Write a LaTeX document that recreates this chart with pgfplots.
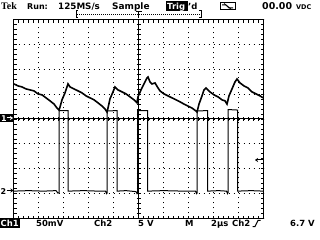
\documentclass[border=0pt]{standalone}
\usepackage{fontspec}
\setmainfont{DejaVu Sans}
\newfontfamily\tekfont{Liberation Serif}
\usepackage{pgfplots}
\pgfplotsset{compat=1.18}
\usetikzlibrary{arrows.meta}
\begin{document}
\begin{tikzpicture}[x=1bp,y=1bp]
\useasboundingbox (0,0) rectangle (320,240);
\begin{axis}[
  at={(13.5bp,21.5bp)}, anchor=south west,
  width=250bp, height=199bp, scale only axis,
  xmin=0, xmax=10, ymin=-4, ymax=4,
  xtick={0,...,10}, ytick={-4,...,4},
  xticklabels={}, yticklabels={},
  minor x tick num=4, minor y tick num=4,
  tick align=inside, tick pos=both,
  major tick length=3bp, minor tick length=3bp,
  every tick/.style={black, line width=0.8bp},
  axis line style={line width=1bp},
  grid=major,
  major grid style={black, line width=1bp, dash pattern=on 1bp off 4bp},
]
% Channel 1 (sawtooth), divisions
\addplot[black, line width=1.6bp, mark=none] coordinates {
(0.02,1.41)(0.18,1.33)(0.34,1.29)(0.50,1.21)(0.66,1.17)(0.82,1.13)(0.98,1.01)
(1.14,0.97)(1.30,0.85)(1.46,0.73)(1.62,0.60)(1.74,0.44)(1.82,0.36)(1.86,0.48)
(1.94,0.77)(2.06,1.05)(2.18,1.41)(2.26,1.29)(2.42,1.21)(2.58,1.13)(2.74,1.05)
(2.90,0.93)(3.06,0.85)(3.22,0.77)(3.38,0.65)(3.54,0.52)(3.66,0.40)(3.74,0.28)
(3.78,0.44)(3.86,0.81)(3.98,1.09)(4.06,1.29)(4.18,1.17)(4.34,1.09)(4.50,1.01)
(4.66,0.89)(4.82,0.77)(4.94,0.65)(4.98,0.89)(5.10,1.17)(5.22,1.41)(5.34,1.65)
(5.38,1.69)(5.46,1.49)(5.54,1.41)(5.66,1.45)(5.78,1.25)(5.86,1.13)(6.02,1.01)
(6.18,0.93)(6.34,0.85)(6.50,0.77)(6.66,0.69)(6.82,0.60)(6.98,0.52)(7.14,0.44)
(7.30,0.32)(7.34,0.28)(7.42,0.60)(7.54,0.93)(7.62,1.17)(7.70,1.25)(7.86,1.09)
(8.02,0.97)(8.18,0.89)(8.34,0.77)(8.46,0.73)(8.54,0.60)(8.62,0.93)(8.74,1.21)
(8.86,1.49)(8.94,1.61)(9.06,1.45)(9.22,1.33)(9.38,1.25)(9.54,1.09)(9.70,1.01)
(9.86,0.93)(9.98,0.85)
};
% Channel 2 (pulses)
\addplot[black, line width=1bp, mark=none] coordinates {
(0,-2.90)(0.6,-2.88)(1.2,-2.90)(1.70,-2.88)(1.78,-2.98)(1.82,-2.96)(1.82,0.34)
(2.18,0.34)(2.18,-2.90)(2.8,-2.88)(3.4,-2.90)(3.68,-2.90)(3.72,-3.0)(3.74,-2.98)
(3.74,0.32)(4.14,0.34)(4.14,-2.90)(4.5,-2.88)(4.90,-2.92)(4.94,-3.0)(4.96,-2.96)
(4.96,0.34)(5.36,0.34)(5.36,-2.90)(6.0,-2.88)(6.8,-2.90)(7.28,-2.90)(7.32,-3.0)
(7.34,-2.98)(7.34,0.32)(7.76,0.34)(7.76,-2.90)(8.2,-2.88)(8.52,-2.90)(8.56,-3.0)
(8.58,-2.96)(8.58,0.38)(8.96,0.36)(8.96,-2.90)(9.5,-2.88)(10,-2.90)
};
\end{axis}
% centre cross with ticks
\draw[line width=1bp] (138.5,21.5) -- (138.5,220.5);
\draw[line width=1bp] (13.5,121) -- (263.5,121);
\foreach \i in {1,...,49} {\draw[line width=0.8bp] (13.5+5*\i,119) -- (13.5+5*\i,123);}
\foreach \i in {1,...,39} {\draw[line width=0.8bp] (136.5,21.5+4.975*\i) -- (140.5,21.5+4.975*\i);}
\draw[line width=1.2bp] (138.5,220.5) -- (138.5,214);
% top status line
\node[anchor=base west, inner sep=0, font={\tekfont\bfseries\fontsize{10}{10}\selectfont}] at (1,230.5) {Tek};
\node[anchor=base west, inner sep=0, font={\bfseries\fontsize{8}{8}\selectfont}] at (27,230.5) {Run:};
\node[anchor=base west, inner sep=0, font={\bfseries\fontsize{8.8}{9}\selectfont}] at (58,230.5) {125MS/s};
\node[anchor=base west, inner sep=0, font={\bfseries\fontsize{9}{9}\selectfont}] at (112,230.5) {Sample};
\fill[black] (166,229) rectangle (188,238.5);
\node[anchor=base west, inner sep=0, text=white, font={\bfseries\fontsize{8.5}{9}\selectfont}] at (167,230.5) {Trig};
\node[anchor=base west, inner sep=0, font={\bfseries\fontsize{8.5}{9}\selectfont}] at (188,230.5) {'d};
\draw[line width=1bp] (220,230) rectangle (235,237.5);
\draw[line width=1bp] (222,235) -- (226,235) -- (229,232) -- (233,232);
\draw[line width=0.8bp] (224,236.5) -- (231,231);
\node[anchor=base west, inner sep=0, font={\bfseries\fontsize{9.5}{10}\selectfont}] at (262,230.5) {00.00};
\node[anchor=base west, inner sep=0, font={\bfseries\fontsize{6.5}{7}\selectfont}] at (296,230.5) {VDC};
% horizontal position bracket
\draw[line width=1bp] (78,222) -- (76,222) -- (76,229) -- (78,229);
\draw[line width=1bp] (199,222) -- (201,222) -- (201,229) -- (199,229);
\draw[line width=1bp, dash pattern=on 1bp off 1bp] (77,225.5) -- (200,225.5);
\draw[line width=1.5bp] (135.5,228.5) -- (141.5,228.5);
\draw[line width=1.5bp] (138.5,228.5) -- (138.5,222);
% channel markers
\fill[black] (0,117.5) rectangle (13,126);
\node[anchor=base west, inner sep=0, text=white, font={\bfseries\fontsize{8}{8}\selectfont}] at (1,118.5) {1};
\draw[white, line width=1bp, -{Stealth[length=3bp,width=4bp]}] (6.5,122) -- (13,122);
\node[anchor=base west, inner sep=0, font={\bfseries\fontsize{8}{8}\selectfont}] at (0.5,46) {2};
\draw[black, line width=1bp, -{Stealth[length=3bp,width=4bp]}] (6.5,49.5) -- (13.5,49.5);
\draw[black, line width=1bp, -{Stealth[length=3bp,width=4bp]}] (263,80) -- (255,80);
% bottom status line
\fill[black] (0,12) rectangle (20,22);
\node[anchor=base west, inner sep=0, text=white, font={\bfseries\fontsize{8.5}{9}\selectfont}] at (0.5,13.5) {Ch1};
\node[anchor=base west, inner sep=0, font={\bfseries\fontsize{8.5}{9}\selectfont}] at (36,13.5) {50mV};
\node[anchor=base west, inner sep=0, font={\bfseries\fontsize{8.5}{9}\selectfont}] at (94,13.5) {Ch2};
\node[anchor=base west, inner sep=0, font={\bfseries\fontsize{8.5}{9}\selectfont}] at (138,13.5) {5 V};
\node[anchor=base west, inner sep=0, font={\bfseries\fontsize{8.5}{9}\selectfont}] at (185,13.5) {M};
\node[anchor=base west, inner sep=0, font={\bfseries\fontsize{8.5}{9}\selectfont}] at (211,13.5) {2µs};
\node[anchor=base west, inner sep=0, font={\bfseries\fontsize{8.5}{9}\selectfont}] at (232,13.5) {Ch2};
\draw[line width=1bp] (252.5,13.5) -- (255,13.5) -- (258,19.5) -- (260.5,19.5);
\node[anchor=base west, inner sep=0, font={\bfseries\fontsize{8.5}{9}\selectfont}] at (290,13.5) {6.7 V};
\end{tikzpicture}
\end{document}
